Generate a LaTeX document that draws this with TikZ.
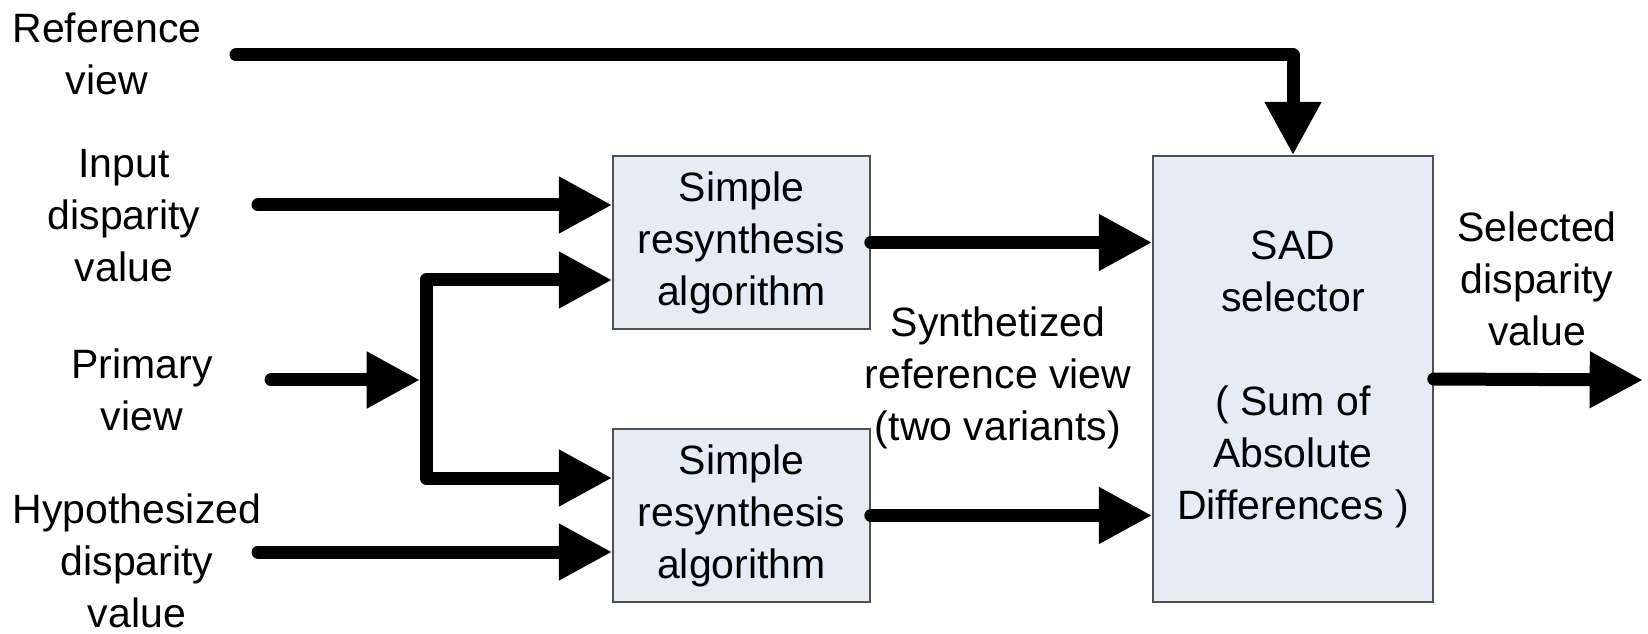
\documentclass[tikz,border=0pt]{standalone}
\usepackage{fontspec}
\setmainfont{Liberation Sans}
\usetikzlibrary{positioning,calc,arrows.meta}
\definecolor{boxfill}{HTML}{E5ECF6}
\definecolor{boxline}{HTML}{505050}

\tikzset{
  flow/.style={line width=3.9pt, line cap=round, line join=round,
    -{Triangle[length=16pt,width=16pt]}},
  blockbox/.style={draw=boxline, fill=boxfill, line width=0.5pt, align=center, inner sep=0pt},
  lbl/.style={align=center, inner sep=0pt}
}

\begin{document}
\begin{tikzpicture}[x=0.3pt,y=-0.3pt,
  every node/.style={font=\fontsize{12.3}{15.6}\selectfont}]
  \useasboundingbox (0,0) rectangle (1648,634);

  % processing blocks
  \node[blockbox, minimum width=77.1pt, minimum height=51.9pt] (resyn1) at (741.5,242.5) {Simple\\resynthesis\\algorithm};
  \node[blockbox, minimum width=77.1pt, minimum height=51.9pt] (resyn2) at (741.5,515.5) {Simple\\resynthesis\\algorithm};
  \node[blockbox, minimum width=84pt, minimum height=133.8pt] (sad) at (1293,379)
    {SAD\\selector\\[15.6pt]( Sum of\\Absolute\\Differences )};

  % labels
  \node[lbl] (refview) at (107,54) {Reference\\view};
  \node[lbl] (inputdisp) at (124,216) {Input\\disparity\\value};
  \node[lbl] (primview) at (142,390) {Primary\\view};
  \node[lbl] (hypdisp) at (137,561) {Hypothesized\\disparity\\value};
  \node[lbl] (synthview) at (998,378) {Synthetized\\reference view\\(two variants)};
  \node[lbl] (seldisp) at (1537,279) {Selected\\disparity\\value};

  % free ends
  \coordinate (refstart) at (236,55);
  \coordinate (inpstart) at (258,205);
  \coordinate (primstart) at (271,380);
  \coordinate (split) at (426,380);
  \coordinate (hypstart) at (258,552);
  \coordinate (selend) at (1643,380);

  % connectors
  \draw[flow] (refstart) -| (sad.north);
  \draw[flow] (inpstart) -- (inpstart -| resyn1.west);
  \draw[flow] (primstart) -- ([xshift=-1.8pt]split);
  \draw[flow] (split) |- ([yshift=-11.25pt]resyn1.west);
  \draw[flow] (split) |- ([yshift=11.25pt]resyn2.west);
  \draw[flow] (hypstart) -- (hypstart -| resyn2.west);
  \draw[flow] (resyn1.east) -- (resyn1.east -| sad.west);
  \draw[flow] (resyn2.east) -- (resyn2.east -| sad.west);
  \draw[flow] (sad.east) -- (selend);
\end{tikzpicture}
\end{document}
